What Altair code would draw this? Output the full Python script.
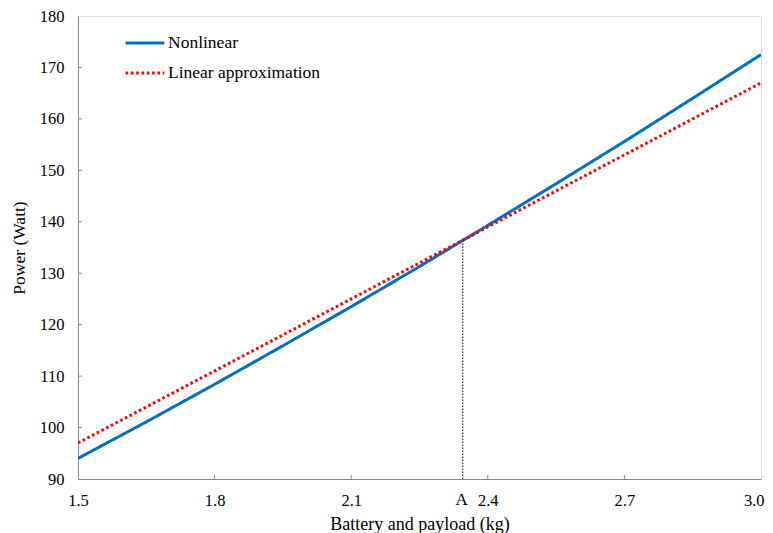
import altair as alt
import pandas as pd

# values
mass_nonlinear = [1.5, 1.65, 1.8, 1.95, 2.1, 2.25, 2.4, 2.55, 2.7, 2.85, 3.0]
power_nonlinear = [94.0, 101.1, 108.4, 115.9, 123.5, 131.3, 139.3, 147.4, 155.6, 164.0, 172.5]
mass_linear = [1.5, 3.0]
power_linear = [97.0, 167.0]
point_a_mass = [2.345]
point_a_power = [136.4]
point_a_label = ["A"]
x_ticks = [1.5, 1.8, 2.1, 2.4, 2.7, 3.0]
y_ticks = [90, 100, 110, 120, 130, 140, 150, 160, 170, 180]
series_names = ["Nonlinear", "Linear approximation"]
series_colors = ["#0070C0", "#FF0000"]

FONT = "'Liberation Serif', 'Times New Roman', serif"
W, H = 683, 463

df = pd.concat([
    pd.DataFrame({"mass": mass_nonlinear, "power": power_nonlinear, "series": series_names[0]}),
    pd.DataFrame({"mass": mass_linear, "power": power_linear, "series": series_names[1]}),
])
df_a = pd.DataFrame({"mass": point_a_mass, "power": point_a_power, "base": [y_ticks[0]], "label": point_a_label})
df_yt = pd.DataFrame({"v": y_ticks[1:-1]})
df_xt = pd.DataFrame({"v": x_ticks[1:-1]})

xs = alt.Scale(domain=[x_ticks[0], x_ticks[-1]], nice=False)
ys = alt.Scale(domain=[y_ticks[0], y_ticks[-1]], nice=False)

x_axis = alt.Axis(values=x_ticks, format=".1f", title="Battery and payload (kg)", grid=False,
                  ticks=False, labelFont=FONT, labelFontSize=16.5, labelColor="black",
                  titleFont=FONT, titleFontSize=18, titleFontWeight="normal", titleColor="black",
                  labelPadding=13, titlePadding=7, domainColor="#888888", labelFlush=False,
                  labelAlign=alt.condition("datum.value >= 3", alt.value("right"), alt.value("center")),
                  labelOffset=alt.condition("datum.value >= 3", alt.value(3), alt.value(0)))
y_axis = alt.Axis(values=y_ticks, format="d", title="Power (Watt)", grid=False,
                  ticks=False, labelFont=FONT, labelFontSize=16.5, labelColor="black",
                  titleFont=FONT, titleFontSize=17.5, titleFontWeight="normal", titleColor="black",
                  labelPadding=14, titlePadding=11, domainColor="#888888", labelFlush=False)

leg = alt.Legend(orient="none", legendX=46, legendY=6, title=None,
                 symbolType="stroke", symbolSize=1500, symbolStrokeWidth=3,
                 labelFont=FONT, labelFontSize=17.5, labelColor="black",
                 labelOffset=2, rowPadding=-21, padding=0)

lines = alt.Chart(df).mark_line(strokeWidth=3, clip=True).encode(
    x=alt.X("mass:Q", scale=xs, axis=x_axis),
    y=alt.Y("power:Q", scale=ys, axis=y_axis),
    color=alt.Color("series:N", scale=alt.Scale(domain=series_names, range=series_colors), legend=leg),
    strokeDash=alt.StrokeDash("series:N", scale=alt.Scale(domain=series_names, range=[[1, 0], [2.6, 2.7]]),
                              legend=leg),
    order=alt.Order("series:N"),
)

vline = alt.Chart(df_a).mark_rule(color="black", strokeWidth=1, strokeDash=[1.5, 1.5]).encode(
    x=alt.X("mass:Q", scale=xs), y=alt.Y("base:Q", scale=ys), y2="power:Q")

a_text = alt.Chart(df_a).mark_text(font=FONT, fontSize=17, color="black", baseline="top", dy=13, dx=-1).encode(
    x=alt.X("mass:Q", scale=xs), y=alt.Y("base:Q", scale=ys), text="label:N")

ytick = alt.Chart(df_yt).mark_rule(color="#888888", strokeWidth=1).encode(
    y=alt.Y("v:Q", scale=ys), x=alt.value(0), x2=alt.value(4))
xtick = alt.Chart(df_xt).mark_rule(color="#888888", strokeWidth=1).encode(
    x=alt.X("v:Q", scale=xs), y=alt.value(H), y2=alt.value(H - 4))

chart = alt.layer(ytick, xtick, vline, lines, a_text).properties(
    width=W, height=H,
    autosize=alt.AutoSizeParams(type="none"),
    padding={"left": 70, "top": 8, "right": 4, "bottom": 54},
).configure_view(stroke="black", strokeWidth=1).configure(background="white")

chart.save("out.html", embed_options={"renderer": "svg", "actions": False})
